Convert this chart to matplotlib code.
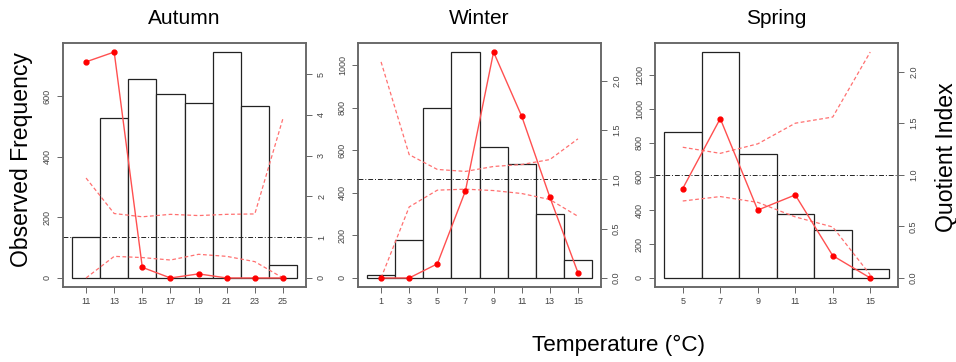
import numpy as np
import matplotlib
matplotlib.use("Agg")
import matplotlib.pyplot as plt

plt.rcParams['font.family'] = ['Liberation Sans', 'DejaVu Sans']

# observed frequency (bars) and quotient index (red) per season
autumn_t = [11, 13, 15, 17, 19, 21, 23, 25]
autumn_freq = [135, 529, 657, 605, 578, 745, 568, 42]
autumn_q = [5.30, 5.54, 0.26, 0.0, 0.10, 0.0, 0.0, 0.0]
autumn_hi = [2.45, 1.58, 1.50, 1.56, 1.53, 1.56, 1.57, 3.91]
autumn_lo = [0.0, 0.53, 0.50, 0.44, 0.58, 0.53, 0.40, 0.0]

winter_t = [1, 3, 5, 7, 9, 11, 13, 15]
winter_freq = [14, 180, 801, 1063, 618, 538, 300, 85]
winter_q = [0.0, 0.0, 0.143, 0.883, 2.29, 1.64, 0.82, 0.054]
winter_hi = [2.19, 1.25, 1.10, 1.08, 1.13, 1.15, 1.20, 1.41]
winter_lo = [0.0, 0.72, 0.89, 0.90, 0.886, 0.856, 0.795, 0.625]

spring_t = [5, 7, 9, 11, 13, 15]
spring_freq = [861, 1337, 736, 381, 286, 56]
spring_q = [0.867, 1.545, 0.658, 0.805, 0.216, 0.0]
spring_hi = [1.267, 1.208, 1.30, 1.50, 1.56, 2.19]
spring_lo = [0.746, 0.789, 0.733, 0.592, 0.494, 0.03]

seasons = ['Autumn', 'Winter', 'Spring']
left_ticks = [np.arange(0, 601, 200), np.arange(0, 1001, 200), np.arange(0, 1201, 200)]
right_ticks = [np.arange(0, 6, 1), np.arange(0, 2.01, 0.5), np.arange(0, 2.01, 0.5)]
right_fmt = ['{:.0f}', '{:.1f}', '{:.1f}']

data = [
    (autumn_t, autumn_freq, autumn_q, autumn_hi, autumn_lo),
    (winter_t, winter_freq, winter_q, winter_hi, winter_lo),
    (spring_t, spring_freq, spring_q, spring_hi, spring_lo),
]

W, H = 956, 362
fig = plt.figure(figsize=(W / 100, H / 100), dpi=100)

box_left = [63, 358, 655]
box_w = 243
box_top, box_bot = 43, 287

grey = '#666666'
tick_col = '#444444'

for i in range(3):
    t, freq, q, hi, lo = data[i]
    ax = fig.add_axes([box_left[i] / W, (H - box_bot) / H, box_w / W, (box_bot - box_top) / H])
    ax.bar(t, freq, width=2, color='white', edgecolor='#222222', linewidth=0.9, zorder=1)
    xr = (min(t) - 1, max(t) + 1)
    pad = 0.04 * (xr[1] - xr[0])
    ax.set_xlim(xr[0] - pad, xr[1] + pad)
    fmax = max(freq)
    ax.set_ylim(-0.04 * fmax, 1.04 * fmax)
    ax.set_xticks(t)
    ax.set_xticklabels([str(v) for v in t])
    ax.set_yticks(left_ticks[i])
    ax.set_yticklabels([str(int(v)) for v in left_ticks[i]], rotation=90, va='center')

    ax2 = ax.twinx()
    qmax = max(q + hi)
    ax2.set_ylim(-0.04 * qmax, 1.04 * qmax)
    ax2.axhline(1.0, color='#222222', linewidth=0.7, linestyle=(0, (5, 2, 1, 2)), zorder=2)
    ax2.plot(t, hi, color='#ff7070', linewidth=0.9, linestyle=(0, (3, 2)), zorder=3)
    ax2.plot(t, lo, color='#ff7070', linewidth=0.9, linestyle=(0, (3, 2)), zorder=3)
    ax2.plot(t, q, color='#ff5050', linewidth=1.0, marker='o', markersize=3.5,
             markerfacecolor='red', markeredgecolor='red', zorder=4)
    ax2.set_yticks(right_ticks[i])
    ax2.set_yticklabels([right_fmt[i].format(v) for v in right_ticks[i]], rotation=90, va='center')

    for a in (ax, ax2):
        for s in a.spines.values():
            s.set_color(grey)
            s.set_linewidth(1.1)
        a.tick_params(length=4, width=0.7, color=grey, labelsize=6.5, labelcolor=tick_col, pad=3)
    ax.tick_params(axis='y', pad=4)
    ax2.tick_params(axis='y', pad=4)

    cx = (box_left[i] + box_w / 2) / W
    fig.text(cx, 1 - 18 / H, seasons[i], ha='center', va='center', fontsize=15)

fig.text(22 / W, 1 - 160 / H, 'Observed Frequency', rotation=90, ha='center', va='center', fontsize=16.6)
fig.text(946 / W, 1 - 157 / H, 'Quotient Index', rotation=90, ha='center', va='center', fontsize=16.6)
fig.text(619 / W, 1 - 345 / H, 'Temperature (°C)', ha='center', va='center', fontsize=16.2)

fig.savefig('out.png', dpi=100)
